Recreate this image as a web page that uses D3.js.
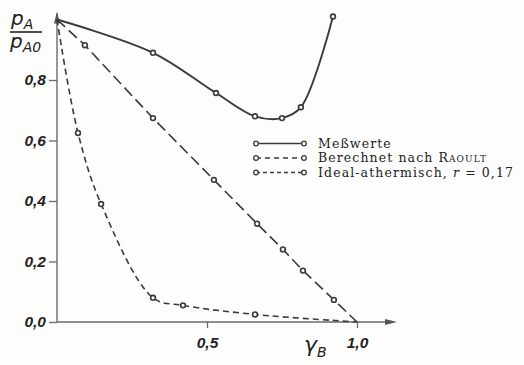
<html>
<body style="margin:0;background:#fdfdfc">
<script src="https://d3js.org/d3.v7.min.js"></script>
<svg width="524" height="365"></svg>
<script>
// values (mole fraction of B vs. relative pressure)
var measX = [0, 0.32, 0.53, 0.66, 0.75, 0.813, 0.92];
var measY = [1.0, 0.89, 0.757, 0.68, 0.674, 0.71, 1.01];
var raoultX = [0, 0.093, 0.32, 0.523, 0.667, 0.753, 0.82, 0.923, 1.0];
var raoultY = [1.0, 0.915, 0.674, 0.47, 0.325, 0.24, 0.17, 0.073, 0.0];
var idealX = [0, 0.07, 0.147, 0.32, 0.42, 0.66, 1.0];
var idealY = [1.0, 0.625, 0.39, 0.08, 0.055, 0.025, 0.0];
var yTicks = [0, 0.2, 0.4, 0.6, 0.8];
var xTicks = [0.5, 1.0];
var legendLabels = ["Meßwerte", "Berechnet nach ", "Ideal-athermisch, "];

var svg = d3.select("svg");
var ink = "#3a3a3a", axisInk = "#6a6a6a";

var x = d3.scaleLinear().domain([0, 1]).range([57, 357]);
var y = d3.scaleLinear().domain([0, 1]).range([322, 19.5]);

var fmt = function(d) { return d3.format(".1f")(d).replace(".", ","); };

// axes
var yAxis = svg.append("g")
    .attr("transform", "translate(" + x(0) + ",0)")
    .call(d3.axisLeft(y).tickValues(yTicks).tickSize(8).tickPadding(3).tickFormat(fmt));
var xAxis = svg.append("g")
    .attr("transform", "translate(0," + y(0) + ")")
    .call(d3.axisBottom(x).tickValues(xTicks).tickSize(6).tickPadding(6).tickFormat(fmt));
[yAxis, xAxis].forEach(function(g) {
    g.select(".domain").remove();
    g.selectAll("line").attr("stroke", axisInk).attr("stroke-width", 1.3);
    g.selectAll("text")
        .attr("fill", "#222")
        .style("font-family", "Liberation Sans")
        .style("font-style", "italic")
        .style("font-weight", "bold")
        .style("font-size", "15.5px");
});
xAxis.selectAll("text").attr("dy", "0.9em");

// axis lines with arrow heads
svg.append("line").attr("x1", x(0)).attr("x2", x(0)).attr("y1", y(0)).attr("y2", y(1.02))
    .attr("stroke", axisInk).attr("stroke-width", 1.4);
svg.append("path")
    .attr("d", "M" + x(0) + "," + (y(1) - 8) + "l-3,12l6,0z")
    .attr("fill", "#555");
svg.append("line").attr("x1", x(0)).attr("x2", x(1.12)).attr("y1", y(0)).attr("y2", y(0))
    .attr("stroke", axisInk).attr("stroke-width", 1.4);
svg.append("path")
    .attr("d", "M" + (x(1.12) + 4) + "," + y(0) + "l-12,-3l0,6z")
    .attr("fill", "#555");

// curves
var line = d3.line()
    .x(function(d) { return x(d[0]); })
    .y(function(d) { return y(d[1]); });

function series(xs, ys, curve, dash, width, markerFrom, markerTo) {
    var pts = d3.zip(xs, ys);
    svg.append("path")
        .datum(pts)
        .attr("d", line.curve(curve))
        .attr("fill", "none")
        .attr("stroke", ink)
        .attr("stroke-width", width)
        .attr("stroke-dasharray", dash);
    svg.append("g").selectAll("circle")
        .data(pts.slice(markerFrom, markerTo))
        .join("circle")
        .attr("cx", function(d) { return x(d[0]); })
        .attr("cy", function(d) { return y(d[1]); })
        .attr("r", 2.4)
        .attr("fill", "#fff")
        .attr("stroke", ink)
        .attr("stroke-width", 1.6);
}

series(measX, measY, d3.curveCatmullRom.alpha(0.5), null, 1.9, 1, measX.length);
series(raoultX, raoultY, d3.curveLinear, "11,5", 1.6, 1, raoultX.length - 1);
series(idealX, idealY, d3.curveCatmullRom.alpha(0.5), "6,4", 1.6, 1, idealX.length - 1);

// legend
var legDash = [null, "5,4", "4,3"];
var legY = [143.5, 158, 172.5];
var leg = svg.append("g");
legY.forEach(function(ly, i) {
    leg.append("line").attr("x1", 256).attr("x2", 304).attr("y1", ly).attr("y2", ly)
        .attr("stroke", ink).attr("stroke-width", 1.5).attr("stroke-dasharray", legDash[i]);
    [256, 304].forEach(function(cx) {
        leg.append("circle").attr("cx", cx).attr("cy", ly).attr("r", 2.3)
            .attr("fill", "#fff").attr("stroke", ink).attr("stroke-width", 1.3);
    });
    var t = leg.append("text").attr("x", 318).attr("y", ly + 4.2)
        .attr("fill", "#222")
        .style("font-family", "DejaVu Serif")
        .style("font-size", "12.5px")
        .style("letter-spacing", "1.1px")
        .text(legendLabels[i]);
    if (i === 1) t.append("tspan").style("font-variant", "small-caps").text("Raoult");
    if (i === 2) {
        t.append("tspan").style("font-style", "italic").text("r");
        t.append("tspan").text(" = 0,17");
    }
});

// axis titles
var title = svg.append("g").attr("fill", "#222")
    .style("font-family", "DejaVu Sans").style("font-style", "italic");
title.append("text").attr("x", 11).attr("y", 25).style("font-size", "20px")
    .text("p").append("tspan").attr("dy", 4).style("font-size", "14px").text("A");
title.append("line").attr("x1", 10).attr("x2", 42).attr("y1", 32).attr("y2", 32)
    .attr("stroke", "#222").attr("stroke-width", 1.6);
title.append("text").attr("x", 10).attr("y", 48).style("font-size", "20px")
    .text("p").append("tspan").attr("dy", 4).style("font-size", "14px").text("A0");
title.append("text").attr("x", 304).attr("y", 352).style("font-size", "22px")
    .text("γ").append("tspan").attr("dy", 5).style("font-size", "14px").text("B");
</script>
</body>
</html>
